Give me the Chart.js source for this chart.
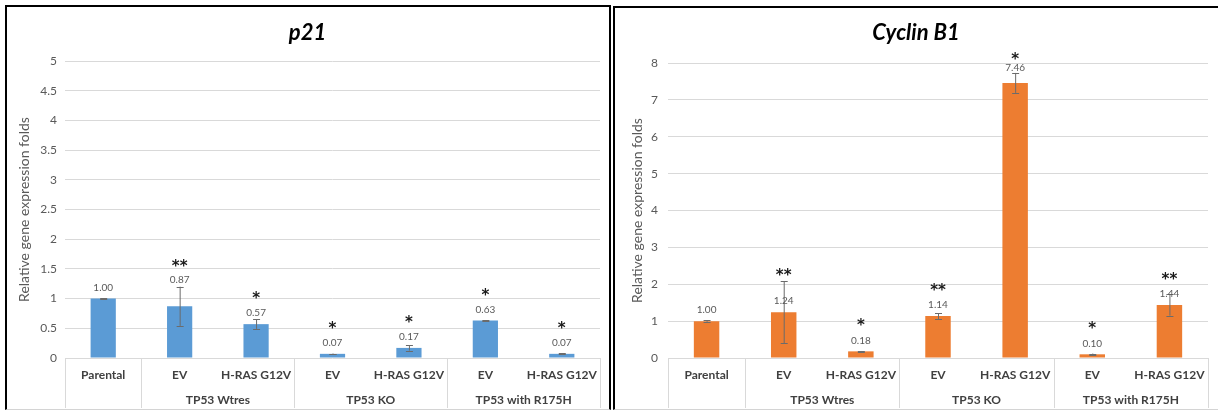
<!DOCTYPE html>
<html>
<head>
<meta charset="utf-8">
<script src="https://cdn.jsdelivr.net/npm/chart.js@4.4.1/dist/chart.umd.min.js"></script>
<style>
  html, body { margin: 0; padding: 0; background: #fff; }
  body { position: relative; width: 1218px; height: 414px; overflow: hidden; }
  .panel { position: absolute; box-sizing: border-box; border: 2px solid #000; border-bottom: 1px solid #d4d4d4; }
  #panelA { left: 5px; top: 5px; width: 606px; height: 405px; }
  #panelB { left: 613px; top: 6px; width: 640px; height: 404px; }
  canvas { position: absolute; }
  #p21Chart { left: 6px; top: 6px; }
  #cyclinChart { left: 614px; top: 7px; }
</style>
</head>
<body>
<div class="panel" id="panelA"></div>
<div class="panel" id="panelB"></div>
<canvas id="p21Chart" width="603" height="402"></canvas>
<canvas id="cyclinChart" width="604" height="401"></canvas>

<script>
  var categories = ["Parental", "EV", "H-RAS G12V", "EV", "H-RAS G12V", "EV", "H-RAS G12V"];
  var categoryGroups = ["", "TP53 Wtres", "TP53 Wtres", "TP53 KO", "TP53 KO", "TP53 with R175H", "TP53 with R175H"];

  var p21Values = [1.00, 0.87, 0.57, 0.07, 0.17, 0.63, 0.07];
  var p21Errors = [0.005, 0.33, 0.08, 0.005, 0.045, 0.005, 0.01];
  var p21Stars = ["", "**", "*", "*", "*", "*", "*"];

  var cyclinValues = [1.00, 1.24, 0.18, 1.14, 7.46, 0.10, 1.44];
  var cyclinErrors = [0.02, 0.84, 0.01, 0.08, 0.27, 0.02, 0.29];
  var cyclinStars = ["", "**", "*", "**", "*", "*", "**"];

  var FONT = "Lato, 'Open Sans', sans-serif";

  // error bars, value labels and significance stars
  var marksPlugin = {
    id: "marks",
    afterDatasetsDraw: function (chart, args, opts) {
      var ctx = chart.ctx;
      var meta = chart.getDatasetMeta(0);
      var y = chart.scales.y;
      var values = chart.data.datasets[0].data;

      ctx.save();
      meta.data.forEach(function (bar, i) {
        var v = values[i];
        var err = opts.errors[i];
        var top = y.getPixelForValue(v + err);
        var bot = y.getPixelForValue(v - err);
        ctx.strokeStyle = "#6b6b6b";
        ctx.lineWidth = 1;
        ctx.beginPath();
        ctx.moveTo(bar.x + 0.5, top);
        ctx.lineTo(bar.x + 0.5, bot);
        ctx.moveTo(bar.x - 3, Math.round(top) + 0.5);
        ctx.lineTo(bar.x + 4, Math.round(top) + 0.5);
        ctx.moveTo(bar.x - 3, Math.round(bot) + 0.5);
        ctx.lineTo(bar.x + 4, Math.round(bot) + 0.5);
        ctx.stroke();

        var lift = opts.labelLift[i] || 11;
        var labelY = bar.y - lift;
        ctx.fillStyle = "#595959";
        ctx.font = "10px " + FONT;
        ctx.textAlign = "center";
        ctx.textBaseline = "middle";
        ctx.fillText(v.toFixed(2), bar.x, labelY);

        if (opts.stars[i]) {
          var starY = labelY - (opts.starLift[i] || 19);
          ctx.fillStyle = "#1a1a1a";
          ctx.font = "bold 15px 'DejaVu Sans', sans-serif";
          ctx.textBaseline = "alphabetic";
          ctx.fillText(opts.stars[i], bar.x, starY + 9);
        }
      });
      ctx.restore();
    }
  };

  // title and the two-row category table below the plot
  var framePlugin = {
    id: "frame",
    afterDraw: function (chart, args, opts) {
      var ctx = chart.ctx;
      var area = chart.chartArea;
      var x = chart.scales.x;

      ctx.save();
      ctx.fillStyle = "#000";
      ctx.font = "italic bold 22px " + FONT;
      ctx.textAlign = "center";
      ctx.textBaseline = "middle";
      ctx.fillText(opts.title, chart.width / 2, opts.titleY);

      var edges = [area.left];
      for (var i = 0; i < categories.length - 1; i++) {
        if (categoryGroups[i] !== categoryGroups[i + 1]) {
          edges.push((x.getPixelForValue(i) + x.getPixelForValue(i + 1)) / 2);
        }
      }
      edges.push(area.right);

      ctx.strokeStyle = "#d9d9d9";
      ctx.lineWidth = 1;
      ctx.beginPath();
      edges.forEach(function (ex) {
        ctx.moveTo(Math.round(ex) + 0.5, area.bottom);
        ctx.lineTo(Math.round(ex) + 0.5, chart.height);
      });
      ctx.stroke();

      ctx.fillStyle = "#404040";
      ctx.font = "bold 12px " + FONT;
      categories.forEach(function (c, i) {
        ctx.fillText(c, x.getPixelForValue(i), area.bottom + 17);
      });

      var start = 0;
      for (var j = 1; j <= categories.length; j++) {
        if (j === categories.length || categoryGroups[j] !== categoryGroups[start]) {
          if (categoryGroups[start]) {
            var cx = (x.getPixelForValue(start) + x.getPixelForValue(j - 1)) / 2;
            ctx.fillText(categoryGroups[start], cx, area.bottom + 42);
          }
          start = j;
        }
      }
      ctx.restore();
    }
  };

  function makeChart(id, values, color, cfg) {
    return new Chart(document.getElementById(id), {
      type: "bar",
      data: {
        labels: categories,
        datasets: [{
          data: values,
          backgroundColor: color,
          borderWidth: 0,
          barPercentage: 0.33,
          categoryPercentage: 1
        }]
      },
      options: {
        responsive: false,
        animation: false,
        layout: { padding: { top: cfg.padTop, right: cfg.padRight, bottom: cfg.padBottom, left: 0 } },
        plugins: {
          legend: { display: false },
          tooltip: { enabled: false },
          marks: { errors: cfg.errors, stars: cfg.stars, labelLift: cfg.labelLift, starLift: cfg.starLift },
          frame: { title: cfg.title, titleY: cfg.titleY }
        },
        scales: {
          x: { display: false, offset: true },
          y: {
            min: 0,
            max: cfg.max,
            ticks: {
              stepSize: cfg.step,
              color: "#595959",
              padding: cfg.tickPad,
              font: { family: FONT, size: 12 },
              callback: function (value) { return String(Number(value)); }
            },
            grid: { color: "#d9d9d9", drawTicks: false },
            border: { display: false },
            title: {
              display: true,
              text: "Relative gene expression folds",
              color: "#595959",
              font: { family: FONT, size: 14 },
              padding: { top: cfg.titlePad, bottom: 0 }
            },
            afterFit: function (scale) { scale.width = cfg.axisWidth; }
          }
        }
      },
      plugins: [marksPlugin, framePlugin]
    });
  }

  makeChart("p21Chart", p21Values, "#5B9BD5", {
    title: "p21", titleY: 27,
    padTop: 55, padRight: 9, padBottom: 50,
    axisWidth: 59, tickPad: 8, titlePad: 10,
    max: 5, step: 0.5,
    errors: p21Errors, stars: p21Stars,
    labelLift: { 1: 27 }, starLift: { 1: 17 }
  });

  makeChart("cyclinChart", cyclinValues, "#ED7D31", {
    title: "Cyclin B1", titleY: 26,
    padTop: 56, padRight: 10, padBottom: 50,
    axisWidth: 54, tickPad: 10, titlePad: 15,
    max: 8, step: 1,
    errors: cyclinErrors, stars: cyclinStars,
    labelLift: { 4: 15 }, starLift: { 1: 30, 4: 13 }
  });
</script>
</body>
</html>
